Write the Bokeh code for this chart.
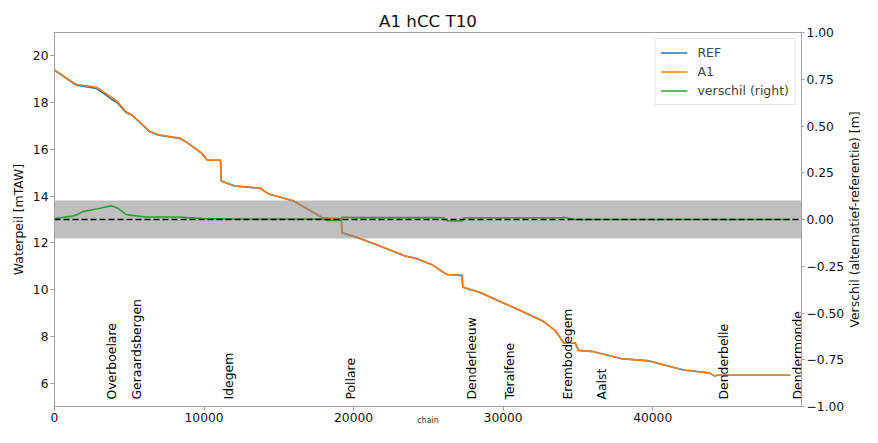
import math
from bokeh.plotting import figure
from bokeh.models import (Range1d, LinearAxis, FixedTicker, CustomJSTickFormatter,
                          NumeralTickFormatter, Legend, LegendItem, ColumnDataSource, Label)
from bokeh.core.properties import value
from bokeh.embed import file_html
from bokeh.resources import INLINE

# ---------------- data ----------------
chain = [0, 1200, 1500, 1900, 2800, 3050, 3800, 4200, 4800, 5200, 6100, 6320, 6970,
         8400, 8840, 9820, 10220, 11100, 11150, 12020, 13770, 14320, 15970, 17940,
         18270, 19030, 19180, 19220, 19300, 20130, 21450, 23420, 24190, 25280, 26050,
         26270, 27260, 27300, 27400, 28460, 30000, 31100, 32630, 33510, 33950, 34060,
         34820, 35040, 35920, 37890, 39760, 42060, 43820, 44150, 44300, 49200]

a1 = [19.40, 18.88, 18.77, 18.74, 18.66, 18.56, 18.23, 18.05, 17.60, 17.47, 16.93, 16.79, 16.62,
      16.48, 16.31, 15.85, 15.54, 15.54, 14.65, 14.44, 14.34, 14.09, 13.80, 13.07,
      13.05, 13.04, 13.03, 12.44, 12.42, 12.26, 11.95, 11.45, 11.34, 11.06, 10.73,
      10.64, 10.60, 10.11, 10.09, 9.89, 9.44, 9.13, 8.67, 8.24, 7.82, 7.72,
      7.72, 7.40, 7.36, 7.05, 6.95, 6.56, 6.43, 6.30, 6.34, 6.34]

ref = [19.395, 18.862, 18.745, 18.698, 18.604, 18.500, 18.156, 17.988, 17.574, 17.448, 16.917, 16.777, 16.607,
       16.467, 16.300, 15.845, 15.536, 15.536, 14.646, 14.436, 14.337, 14.087, 13.797, 13.067,
       13.055, 13.045, 13.030, 12.428, 12.408, 12.250, 11.940, 11.440, 11.330, 11.050, 10.721,
       10.648, 10.608, 10.101, 10.081, 9.881, 9.431, 9.121, 8.661, 8.231, 7.811, 7.708,
       7.720, 7.400, 7.360, 7.050, 6.950, 6.560, 6.430, 6.300, 6.340, 6.340]

verschil = [0.005, 0.018, 0.025, 0.042, 0.056, 0.060, 0.074, 0.062, 0.026, 0.022, 0.013, 0.013, 0.013,
            0.013, 0.010, 0.005, 0.004, 0.004, 0.004, 0.003, 0.003, 0.003, 0.003, 0.003,
            -0.005, -0.005, 0.000, 0.012, 0.012, 0.010, 0.010, 0.010, 0.010, 0.010, 0.009,
            -0.008, -0.008, 0.000, 0.009, 0.009, 0.009, 0.009, 0.009, 0.009, 0.009, 0.012,
            0.000, 0.000, 0.000, 0.000, 0.000, 0.000, 0.000, 0.000, 0.000, 0.000]

places = ["Overboelare", "Geraardsbergen", "Idegem", "Pollare", "Denderleeuw", "Teralfene",
          "Erembodegem", "Aalst", "Denderbelle", "Dendermonde"]
places_chain = [3300, 4950, 11140, 19260, 27370, 29890, 33790, 36070, 44250, 49190]

band_low = [-0.1]
band_high = [0.1]
zero_line = [0.0]

x_ticks = [0, 10000, 20000, 30000, 40000]
left_ticks = [6, 8, 10, 12, 14, 16, 18, 20]
right_ticks = [-1.0, -0.75, -0.5, -0.25, 0.0, 0.25, 0.5, 0.75, 1.0]

# ---------------- figure ----------------
FONT = "DejaVu Sans"
p = figure(width=862, height=427, output_backend="svg", toolbar_location=None,
           x_range=Range1d(0, 49950), y_range=Range1d(5.0, 21.0),
           min_border_left=54, min_border_right=58, min_border_top=32, min_border_bottom=20)
p.extra_y_ranges = {"right": Range1d(-1.0, 1.0)}
p.grid.visible = False
p.outline_line_color = "#a0a0a0"
p.background_fill_color = "white"

p.title.text = "A1 hCC T10"
p.title.align = "center"
p.title.text_font = FONT
p.title.text_font_size = "16.7px"
p.title.text_font_style = "normal"
p.title.text_color = "#111111"
p.title.standoff = 3

src = ColumnDataSource(dict(chain=chain, a1=a1, ref=ref, verschil=verschil))

r_ref = p.line("chain", "ref", source=src, line_color="#1f77b4", line_width=1.6)
r_a1 = p.line("chain", "a1", source=src, line_color="#ff7f0e", line_width=1.6)
p.hstrip(y0=band_low, y1=band_high, y_range_name="right",
         fill_color="gray", fill_alpha=0.5, line_color=None)
r_v = p.line("chain", "verschil", source=src, y_range_name="right",
             line_color="#2ca02c", line_width=1.6)
p.hspan(y=zero_line, y_range_name="right", line_color="black", line_width=1.5, line_dash="6 3")

p.text(x=places_chain, y=[5.3] * len(places), text=places, angle=math.pi / 2,
       text_align="left", text_baseline="top", text_font=value(FONT),
       text_font_size=value("12.4px"), text_color="black")

# axes
right_axis = LinearAxis(y_range_name="right")
p.add_layout(right_axis, "right")

p.xaxis.ticker = FixedTicker(ticks=x_ticks)
p.xaxis.formatter = NumeralTickFormatter(format="0")
p.xaxis.axis_label = "chain"
p.yaxis[0].ticker = FixedTicker(ticks=left_ticks)
p.yaxis[0].axis_label = "Waterpeil [mTAW]"
right_axis.ticker = FixedTicker(ticks=right_ticks)
right_axis.formatter = CustomJSTickFormatter(
    code="return (tick < 0 ? '\\u2212' : '') + Math.abs(tick).toFixed(2);")

for ax in p.axis:
    ax.axis_line_color = "#a0a0a0"
    ax.major_tick_line_color = "#a0a0a0"
    ax.minor_tick_line_color = None
    ax.major_tick_in = 0
    ax.major_tick_out = 4
    ax.major_label_standoff = 2
    ax.major_label_text_font = FONT
    ax.major_label_text_font_size = "12.3px"
    ax.major_label_text_color = "#111111"
    ax.axis_label_text_font = FONT
    ax.axis_label_text_font_size = "12.4px"
    ax.axis_label_text_font_style = "normal"
    ax.axis_label_text_color = "#111111"
    ax.axis_label_standoff = 4
right_axis.major_tick_out = 3

p.xaxis.axis_label_text_font_size = "8px"
p.xaxis.axis_label_text_color = "#333333"
p.xaxis.axis_label_standoff = -9

# right-hand axis title, reading bottom-to-top like the left one
p.add_layout(Label(x=7, y=187, x_units="screen", y_units="screen",
                   text="Verschil (alternatief-referentie) [m]", angle=math.pi / 2,
                   text_align="center", text_baseline="middle", text_font=FONT,
                   text_font_size="12.4px", text_color="#111111"), "right")

legend = Legend(items=[LegendItem(label="REF", renderers=[r_ref]),
                       LegendItem(label="A1", renderers=[r_a1]),
                       LegendItem(label="verschil (right)", renderers=[r_v])],
                location="top_right")
legend.label_text_font = FONT
legend.label_text_font_size = "12.5px"
legend.border_line_color = "#cccccc"
legend.background_fill_alpha = 0.8
legend.margin = 6
legend.padding = 5
legend.spacing = 2
legend.glyph_width = 27
legend.glyph_height = 17
legend.label_height = 17
legend.label_standoff = 10
p.add_layout(legend)

open("out.html", "w").write(file_html(p, INLINE))
